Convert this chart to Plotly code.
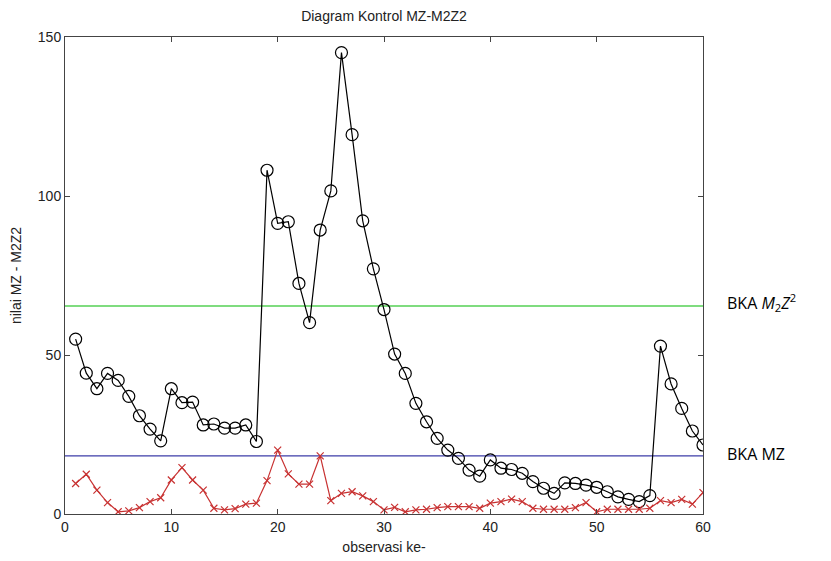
import plotly.graph_objects as go

obs = list(range(1, 61))
m2z2 = [55.0, 44.3, 39.4, 44.2, 42.0, 37.0, 30.9, 26.7, 23.0, 39.4,
        35.0, 35.2, 28.0, 28.3, 27.0, 27.0, 28.0, 22.8, 108.1, 91.4,
        91.9, 72.5, 60.2, 89.3, 101.6, 145.1, 119.3, 92.2, 77.1, 64.3,
        50.3, 44.2, 34.8, 29.0, 23.8, 20.1, 17.5, 13.8, 11.9, 17.0,
        14.4, 14.0, 12.8, 10.2, 8.1, 6.5, 9.8, 9.6, 9.1, 8.4,
        7.0, 5.4, 4.6, 3.9, 5.8, 52.8, 40.9, 33.2, 26.1, 21.7]
mz = [9.6, 12.5, 7.5, 3.6, 0.7, 1.0, 2.0, 3.9, 5.1, 10.7,
      14.6, 10.7, 7.5, 1.8, 1.3, 1.7, 3.1, 3.4, 10.5, 20.1,
      12.6, 9.4, 9.4, 18.3, 4.2, 6.5, 7.0, 5.7, 3.9, 1.3,
      2.1, 0.7, 1.3, 1.5, 2.0, 2.3, 2.3, 2.3, 1.8, 3.4,
      3.9, 4.7, 3.9, 1.8, 1.5, 1.5, 1.5, 2.0, 3.6, 0.7,
      1.5, 1.5, 1.5, 1.5, 1.8, 4.2, 3.6, 4.6, 3.1, 6.7]
bka_m2z2 = 65.4
bka_mz = 18.3
x_range = [0, 60]
y_range = [0, 150]
x_ticks = [0, 10, 20, 30, 40, 50, 60]
y_ticks = [0, 50, 100, 150]

fig = go.Figure()
fig.add_trace(go.Scatter(x=x_range, y=[bka_m2z2, bka_m2z2], mode="lines",
                         line=dict(color="#55d055", width=1.5), showlegend=False))
fig.add_trace(go.Scatter(x=x_range, y=[bka_mz, bka_mz], mode="lines",
                         line=dict(color="#3c3ca8", width=1.3), showlegend=False))
fig.add_trace(go.Scatter(x=obs, y=m2z2, mode="lines+markers",
                         line=dict(color="black", width=1.2),
                         marker=dict(symbol="circle-open", size=12, color="black",
                                     line=dict(width=1.2)),
                         showlegend=False))
fig.add_trace(go.Scatter(x=obs, y=mz, mode="lines+markers",
                         line=dict(color="#c83232", width=1.2),
                         marker=dict(symbol="x-thin-open", size=7, color="#c83232",
                                     line=dict(width=1.2, color="#c83232")),
                         showlegend=False))

axis_common = dict(showgrid=False, zeroline=False, showline=True, mirror="ticks",
                   linecolor="#444", linewidth=1, ticks="inside", ticklen=5,
                   tickcolor="#444", automargin=False,
                   tickfont=dict(family="Liberation Sans Narrow, Arial Narrow, Liberation Sans, Arial",
                                 size=14, color="#222"))
fig.update_xaxes(range=x_range, tickvals=x_ticks, **axis_common,
                 title=dict(text="observasi ke-", standoff=8,
                            font=dict(family="Liberation Sans Narrow, Liberation Sans, Arial", size=14, color="#222")))
fig.update_yaxes(range=y_range, tickvals=y_ticks, **axis_common,
                 title=dict(text="nilai MZ - M2Z2", standoff=12,
                            font=dict(family="Liberation Sans Narrow, Liberation Sans, Arial", size=14, color="#222")))

fig.add_annotation(xref="paper", yref="y", x=1.0, y=bka_m2z2, xanchor="left", yanchor="middle",
                   xshift=22, yshift=4, showarrow=False,
                   text="BKA <i>M</i><sub>2</sub><i>Z</i><sup>2</sup>",
                   font=dict(family="Open Sans, Liberation Sans, Arial", size=16, color="black"))
fig.add_annotation(xref="paper", yref="y", x=1.0, y=bka_mz, xanchor="left", yanchor="middle",
                   xshift=22, yshift=2, showarrow=False, text="BKA MZ",
                   font=dict(family="Open Sans, Liberation Sans, Arial", size=16, color="black"))

fig.update_layout(
    width=831, height=561,
    margin=dict(l=65, r=128, t=37, b=47, autoexpand=False),
    paper_bgcolor="white", plot_bgcolor="white",
    title=dict(text="Diagram Kontrol MZ-M2Z2", x=384/831, xanchor="center", y=1 - 16/561, yanchor="middle",
               font=dict(family="Liberation Sans Narrow, Liberation Sans, Arial", size=14, color="#222")),
)

fig.write_html("out.html")
